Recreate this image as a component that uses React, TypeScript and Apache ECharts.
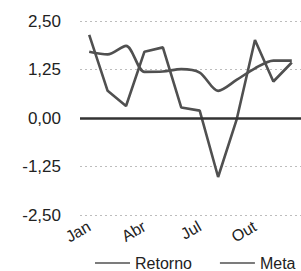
import React, { useEffect, useRef } from "react";
import * as echarts from "echarts";

const months = ["Jan", "Fev", "Mar", "Abr", "Mai", "Jun", "Jul", "Ago", "Set", "Out", "Nov", "Dez"];
const retorno = [2.14, 0.7, 0.31, 1.71, 1.82, 0.27, 0.19, -1.52, -0.05, 2.01, 0.94, 1.43];
const meta = [1.71, 1.64, 1.86, 1.19, 1.2, 1.26, 1.17, 0.7, 0.98, 1.28, 1.48, 1.48];
const yMin = -2.5;
const yMax = 2.5;
const yStep = 1.25;

const FONT = "'Liberation Sans', Arial, sans-serif";

export default function App() {
  const ref = useRef<HTMLDivElement>(null);
  useEffect(() => {
    if (!ref.current) return;
    const chart = echarts.init(ref.current, undefined, { renderer: "svg" });
    const lineColor = "#505050";
    chart.setOption({
      animation: false,
      backgroundColor: "#ffffff",
      textStyle: { fontFamily: FONT },
      grid: { left: 80, right: -16, top: 21, bottom: 56 },
      legend: {
        left: 95,
        top: 255,
        padding: 0,
        width: 206,
        itemWidth: 35,
        itemHeight: 14,
        itemGap: 28,
        icon: "path://M0,6.3 L35,6.3 L35,7.7 L0,7.7 Z",
        textStyle: { fontSize: 16, color: "#222", fontFamily: FONT },
        data: ["Retorno", "Meta"],
      },
      xAxis: {
        type: "category",
        data: months,
        boundaryGap: true,
        axisLine: { show: false, onZero: false },
        axisTick: { show: false },
        axisLabel: {
          interval: 2,
          rotate: 30,
          margin: 10,
          fontSize: 16,
          color: "#222",
          fontFamily: FONT,
        },
        splitLine: { show: false },
      },
      yAxis: {
        type: "value",
        min: yMin,
        max: yMax,
        interval: yStep,
        axisLine: { show: false },
        axisTick: { show: false },
        axisLabel: {
          margin: 19,
          fontSize: 17,
          color: "#222",
          fontFamily: FONT,
          formatter: (v: number) => v.toFixed(2).replace(".", ","),
        },
        splitLine: { show: true, lineStyle: { color: "#bdbdbd", type: [2, 3], width: 1 } },
      },
      series: [
        {
          name: "Retorno",
          type: "line",
          data: retorno,
          symbol: "none",
          lineStyle: { color: lineColor, width: 2.6 },
          itemStyle: { color: lineColor },
          markLine: {
            silent: true,
            symbol: "none",
            label: { show: false },
            lineStyle: { color: "#333", width: 2.5, type: "solid" },
            data: [{ yAxis: 0 }],
          },
        },
        {
          name: "Meta",
          type: "line",
          data: meta,
          symbol: "none",
          smooth: 0.3,
          lineStyle: { color: lineColor, width: 2.6 },
          itemStyle: { color: lineColor },
        },
      ],
    });
    return () => chart.dispose();
  }, []);
  return (
    <div
      ref={ref}
      style={{ position: "fixed", left: 0, top: 0, width: 301, height: 271, background: "#fff" }}
    />
  );
}
